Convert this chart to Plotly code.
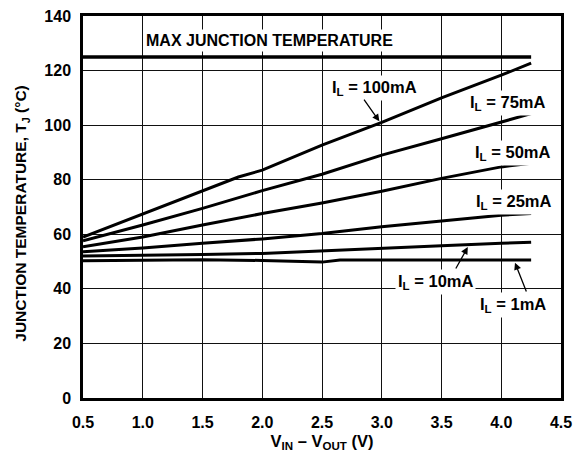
import plotly.graph_objects as go

# ---- data ----
v_max = [0.5, 4.25]
t_max = [125, 125]

v_100 = [0.5, 1.0, 1.5, 1.8, 2.0, 2.5, 3.0, 3.5, 4.0, 4.25]
t_100 = [59.0, 67.5, 75.8, 81.0, 83.5, 92.7, 101.0, 110.0, 118.3, 122.7]

v_75 = [0.5, 1.0, 1.5, 2.0, 2.5, 3.0, 3.5, 4.0, 4.25]
t_75 = [57.6, 63.4, 69.5, 76.0, 82.0, 89.0, 95.0, 101.0, 104.2]

v_50 = [0.5, 1.0, 1.5, 2.0, 2.5, 3.0, 3.5, 4.0, 4.25]
t_50 = [55.4, 59.0, 63.4, 67.6, 71.5, 75.8, 80.5, 84.7, 86.0]

v_25 = [0.5, 1.0, 1.5, 2.0, 2.5, 3.0, 3.5, 4.0, 4.25]
t_25 = [53.6, 55.0, 56.7, 58.3, 60.3, 62.8, 64.9, 67.0, 67.6]

v_10 = [0.5, 1.0, 1.5, 2.0, 2.5, 3.0, 3.5, 4.0, 4.25]
t_10 = [52.0, 52.2, 52.6, 53.0, 54.0, 55.0, 55.8, 56.7, 57.1]

v_1 = [0.5, 1.0, 1.5, 2.0, 2.4, 2.5, 2.65, 3.0, 3.5, 4.0, 4.25]
t_1 = [50.3, 50.5, 50.7, 50.4, 49.9, 49.8, 50.6, 50.7, 50.6, 50.6, 50.6]

x_ticks = [0.5, 1.0, 1.5, 2.0, 2.5, 3.0, 3.5, 4.0, 4.5]
y_ticks = [0, 20, 40, 60, 80, 100, 120, 140]

FONT = "Liberation Sans, Arial, Helvetica, sans-serif"

fig = go.Figure()
series = [
    (v_max, t_max, 3.5, "MAX"),
    (v_100, t_100, 3, "100mA"),
    (v_75, t_75, 3, "75mA"),
    (v_50, t_50, 3, "50mA"),
    (v_25, t_25, 3, "25mA"),
    (v_10, t_10, 3, "10mA"),
    (v_1, t_1, 3, "1mA"),
]
for xs, ys, w, name in series:
    fig.add_trace(go.Scatter(x=xs, y=ys, mode="lines", name=name,
                             line=dict(color="black", width=w),
                             showlegend=False, hoverinfo="skip"))

labels = [
    ("MAX JUNCTION TEMPERATURE", 2.06, 131.0, 16),
    ("I<sub>L</sub> = 100mA", 2.94, 113.6, 16.5),
    ("I<sub>L</sub> = 75mA", 4.05, 108.1, 16.5),
    ("I<sub>L</sub> = 50mA", 4.09, 89.7, 16.5),
    ("I<sub>L</sub> = 25mA", 4.10, 71.8, 16.5),
    ("I<sub>L</sub> = 10mA", 3.45, 42.5, 16.5),
    ("I<sub>L</sub> = 1mA", 4.10, 34.1, 16.5),
]
for text, x, y, sz in labels:
    fig.add_annotation(x=x, y=y, xref="x", yref="y", text=text, showarrow=False,
                       font=dict(family=FONT, size=sz, color="black", weight="bold"),
                       bgcolor="white", borderpad=2)

arrows = [
    (2.843, 109.9, 2.98, 101.4),
    (3.613, 46.9, 3.72, 55.3),
    (4.215, 38.5, 4.115, 49.6),
]
for ax, ay, x, y in arrows:
    fig.add_annotation(x=x, y=y, ax=ax, ay=ay, xref="x", yref="y", axref="x", ayref="y",
                       text="", showarrow=True, arrowhead=2, arrowsize=1.1,
                       arrowwidth=1.3, arrowcolor="black", standoff=0)

fig.update_layout(
    width=574, height=452,
    margin=dict(l=83, r=13, t=16, b=54, autoexpand=False),
    paper_bgcolor="white", plot_bgcolor="white",
    font=dict(family=FONT, size=16, color="black", weight="bold"),
)
fig.update_xaxes(
    range=[0.5, 4.5], tickvals=x_ticks, ticktext=[f"{v:.1f}" for v in x_ticks],
    showgrid=True, gridcolor="#111", gridwidth=1.3,
    showline=True, linecolor="black", linewidth=2.5, mirror=True,
    zeroline=False, ticks="", ticklabelstandoff=8, automargin=False,
    ticklabeloverflow="allow",
    title=dict(text="V<sub>IN</sub> – V<sub>OUT</sub> (V)", standoff=11,
               font=dict(family=FONT, size=16.5, weight="bold")),
    tickfont=dict(family=FONT, size=16, weight="bold"),
)
fig.update_yaxes(
    range=[0, 140], tickvals=y_ticks, ticktext=[str(v) for v in y_ticks],
    showgrid=True, gridcolor="#111", gridwidth=1.3,
    showline=True, linecolor="black", linewidth=2.5, mirror=True,
    zeroline=False, ticks="", ticklabelstandoff=6, automargin=False,
    ticklabeloverflow="allow",
    title=dict(text="JUNCTION TEMPERATURE, T<sub>J</sub> (°C)&nbsp;&nbsp;&nbsp;", standoff=14,
               font=dict(family=FONT, size=15.5, weight="bold")),
    tickfont=dict(family=FONT, size=16, weight="bold"),
)

fig.write_html("out.html", config={"displayModeBar": False},
               post_script="document.body.style.margin='0px';")
